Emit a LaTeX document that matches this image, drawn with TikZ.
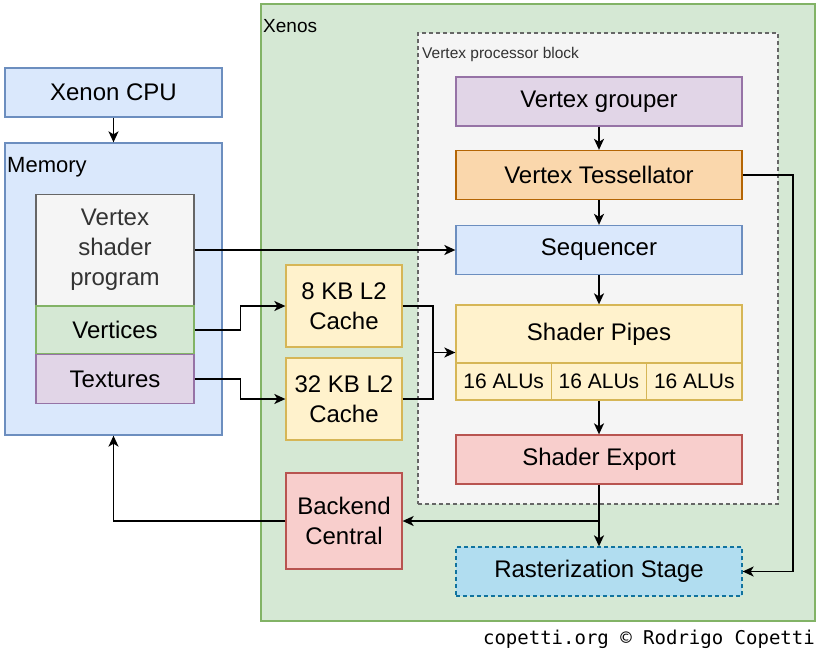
\documentclass[tikz,border=0pt]{standalone}
\usepackage{fontspec}
\setmainfont{Liberation Sans}
\newfontfamily\monofont{DejaVu Sans Mono}
\usetikzlibrary{arrows.meta}
\definecolor{bluefill}{HTML}{DAE8FC}
\definecolor{blueline}{HTML}{6C8EBF}
\definecolor{greenfill}{HTML}{D5E8D4}
\definecolor{greenline}{HTML}{82B366}
\definecolor{purplefill}{HTML}{E1D5E7}
\definecolor{purpleline}{HTML}{9673A6}
\definecolor{orangefill}{HTML}{FAD7AC}
\definecolor{orangeline}{HTML}{B46504}
\definecolor{yellowfill}{HTML}{FFF2CC}
\definecolor{yellowline}{HTML}{D6B656}
\definecolor{redfill}{HTML}{F8CECC}
\definecolor{redline}{HTML}{B85450}
\definecolor{grayfill}{HTML}{F5F5F5}
\definecolor{grayline}{HTML}{666666}
\definecolor{graytext}{HTML}{333333}
\definecolor{rastfill}{HTML}{B1DDF0}
\definecolor{rastline}{HTML}{10739E}

\begin{document}
\begin{tikzpicture}[x=1pt,y=-1pt]

  \tikzstyle{every node}+=[inner sep=0pt]
  \tikzstyle{box}=[draw, line width=1.3pt, align=center, font=\fontsize{24}{30}\selectfont]
  \tikzstyle{blue}=[box, fill=bluefill, draw=blueline]
  \tikzstyle{green}=[box, fill=greenfill, draw=greenline]
  \tikzstyle{purple}=[box, fill=purplefill, draw=purpleline]
  \tikzstyle{orange}=[box, fill=orangefill, draw=orangeline]
  \tikzstyle{yellow}=[box, fill=yellowfill, draw=yellowline]
  \tikzstyle{red}=[box, fill=redfill, draw=redline]
  \tikzstyle{gray}=[box, fill=grayfill, draw=grayline, text=graytext]
  \tikzstyle{wide}=[minimum width=286, minimum height=49]
  \tikzstyle{cache}=[minimum width=116, minimum height=82]
  \tikzstyle{alu}=[yellow, minimum width=95.3, minimum height=37, font=\fontsize{21}{25}\selectfont]
  \tikzstyle{arr}=[-{Stealth[length=11pt,width=10pt,inset=3pt]}, line width=1.6pt]
  \tikzstyle{wire}=[line width=1.6pt]
  \tikzstyle{dashline}=[dash pattern=on 4pt off 3pt]

  \useasboundingbox (0,0) rectangle (820,653);

  \node [green, minimum width=554, minimum height=617] (xenos) at (538,312.5) {};
  \node [anchor=west, font=\fontsize{19}{23}\selectfont] (xenoslabel) at (263,26) {Xenos};
  \node [blue, minimum width=217, minimum height=49] (cpu) at (113.5,92.5) {Xenon CPU};
  \node [blue, minimum width=217, minimum height=292] (mem) at (113.5,289) {};
  \node [anchor=west, font=\fontsize{22}{26}\selectfont] (memlabel) at (7,167) {Memory};
  \node [gray, minimum width=158, minimum height=111] (shprog) at (115,250) {Vertex\\shader\\program};
  \node [green, minimum width=158, minimum height=48] (verts) at (115,330) {Vertices};
  \node [purple, minimum width=158, minimum height=49] (texs) at (115,379) {Textures};

  \node [gray, dashline, minimum width=360, minimum height=471] (vpb) at (598,268.5) {};
  \node [anchor=west, text=graytext, font=\fontsize{15.5}{19}\selectfont] (vpblabel) at (422,54) {Vertex processor block};
  \node [purple, wide] (grouper) at (599,101.5) {Vertex grouper};
  \node [orange, wide] (tess) at (599,175) {Vertex Tessellator};
  \node [blue, wide] (seq) at (599,250) {Sequencer};
  \node [yellow, minimum width=286, minimum height=95] (pipes) at (599,352.5) {};
  \node [font=\fontsize{24}{30}\selectfont] (pipeslabel) at (599,334) {Shader Pipes};
  \node [alu] (alu1) at (503.7,381.5) {16 ALUs};
  \node [alu] (alu2) at (599,381.5) {16 ALUs};
  \node [alu] (alu3) at (694.3,381.5) {16 ALUs};
  \node [red, wide] (export) at (599,459.5) {Shader Export};
  \node [box, dashline, fill=rastfill, draw=rastline, wide] (raster) at (599,571.5) {Rasterization Stage};

  \node [yellow, cache] (l2a) at (344,306) {8 KB L2\\Cache};
  \node [yellow, cache] (l2b) at (344,399) {32 KB L2\\Cache};
  \node [red, minimum width=116, minimum height=96] (backend) at (344,521) {Backend\\Central};

  \node [anchor=east, font=\monofont\fontsize{19}{22}\selectfont] (credit) at (815,639) {copetti.org © Rodrigo Copetti};

  \coordinate (join) at (433,352.5);

  \draw [arr] (cpu) -- (mem);
  \draw [arr] (shprog.east) -- (seq.west);
  \draw [arr] (verts.east) -- ++(46,0) |- (l2a.west);
  \draw [arr] (texs.east) -- ++(46,0) |- (l2b.west);
  \draw [wire] (l2a.east) -| (join);
  \draw [wire] (l2b.east) -| (join);
  \draw [arr] (join) -- (pipes.west);
  \draw [arr] (grouper) -- (tess);
  \draw [arr] (tess) -- (seq);
  \draw [arr] (seq) -- (pipes);
  \draw [arr] (alu2) -- (export);
  \draw [arr] (export) -- (raster);
  \draw [arr] (export.south) |- (backend.east);
  \draw [arr] (backend.west) -| (mem.south);
  \draw [arr] (tess.east) -- ++(50.5,0) |- (raster.east);

\end{tikzpicture}
\end{document}
